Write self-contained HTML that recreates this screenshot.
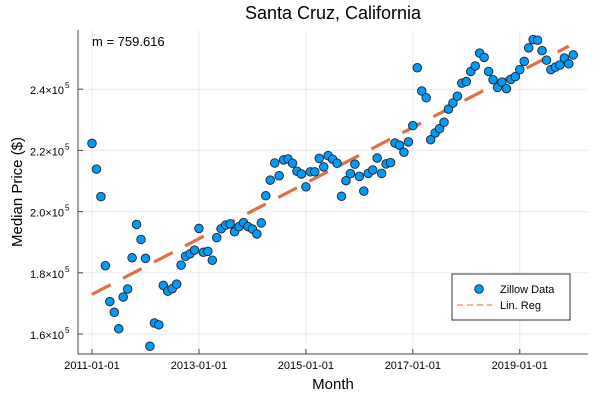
<!DOCTYPE html>
<html><head><meta charset="utf-8"><style>
body{margin:0;background:#fff;}
svg{display:block;font-family:"Liberation Sans",sans-serif;}
</style></head><body>
<svg id="chart" width="600" height="400" viewBox="0 0 600 400">
<rect width="600" height="400" fill="#fff"/>
<g id="grid"></g>
<g id="reg"></g>
<g id="pts"></g>
<line x1="78" y1="30" x2="78" y2="354" stroke="#444" stroke-width="1"/>
<line x1="78" y1="354" x2="588" y2="354" stroke="#444" stroke-width="1"/>
<g id="ticks"></g>
<text x="333" y="19" font-size="18" text-anchor="middle">Santa Cruz, California</text>
<text x="333" y="389" font-size="15" text-anchor="middle">Month</text>
<text transform="translate(22,192) rotate(-90)" font-size="15" text-anchor="middle">Median Price ($)</text>
<text x="92" y="46" font-size="13">m = 759.616</text>
<g>
<rect x="452" y="274" width="118" height="46" fill="#fff" stroke="#333" stroke-width="1"/>
<circle cx="479" cy="289" r="4.3" fill="#009af9" stroke="#222" stroke-width="0.9"/>
<text x="500" y="293" font-size="11">Zillow Data</text>
<line x1="457" y1="305" x2="492" y2="305" stroke="#e26f46" stroke-width="1" stroke-dasharray="6,4"/>
<text x="500" y="309" font-size="11">Lin. Reg</text>
</g>
</svg>
<script>
const values = [222.3,213.9,204.9,182.3,170.6,167.1,161.7,172.1,174.7,184.9,195.8,190.9,184.7,156,163.6,163,175.9,174,174.8,176.3,182.5,185.4,186.2,187.4,194.5,186.7,187,184.1,191.5,194.4,195.6,196,193.4,195.1,196.4,195.1,194.3,192.7,196.3,205.2,210.3,215.9,211.7,216.9,217.2,215.8,213.2,212.3,208.1,213,213,217.4,214.6,218.3,217.1,215.8,205,210.1,212.4,215.5,211.5,206.7,212.5,213.6,217.5,212.5,215.6,216,222.4,221.7,219.4,222.8,228.1,247,239.4,237.2,223.5,225.7,227.1,229.2,233.5,235.5,237.7,242,242.5,245.8,247.6,251.8,250.4,245.8,243.1,240.6,242.3,240.2,243.2,244.1,246.4,249.1,253.5,256.2,256,252.6,249.5,246.4,247.2,247.9,250.2,248.3,251.2];
const xTickMonths = [0,24,48,72,96];
const xTickLabels = ["2011-01-01","2013-01-01","2015-01-01","2017-01-01","2019-01-01"];
const yTickValues = [160,180,200,220,240];
const yTickLabels = ["1.6","1.8","2.0","2.2","2.4"];

const NS="http://www.w3.org/2000/svg";
const X = m => 92 + m*4.456;
const Y = v => 334 - (v-160)*3.06;
function mk(tag, attrs, parent){const e=document.createElementNS(NS,tag);for(const k in attrs)e.setAttribute(k,attrs[k]);parent.appendChild(e);return e;}
const grid=document.getElementById('grid'), ticks=document.getElementById('ticks');
xTickMonths.forEach((m,i)=>{
  const g=mk('line',{x1:X(m),x2:X(m),y1:30,y2:354,stroke:'#000','stroke-opacity':0.08,'stroke-width':1},grid);
  
  
  const t=mk('line',{x1:X(m),x2:X(m),y1:354,y2:349,stroke:'#444'},ticks);
  
  
  const l=mk('text',{x:X(m),y:369,'font-size':11,'text-anchor':'middle'},ticks);
  l.textContent=xTickLabels[i];
  
  
});
yTickValues.forEach((v,i)=>{
  const g=mk('line',{x1:78,x2:588,y1:Y(v),y2:Y(v),stroke:'#000','stroke-opacity':0.08,'stroke-width':1},grid);
  
  
  const t=mk('line',{x1:78,x2:83,y1:Y(v),y2:Y(v),stroke:'#444'},ticks);
  
  
  const l=mk('text',{x:64,y:Y(v)+5,'font-size':11,'text-anchor':'end'},ticks);
  l.textContent=yTickLabels[i]+"×10";
  
  
  const s=mk('text',{x:65,y:Y(v)-1,'font-size':8},ticks);
  s.textContent="5";
  
  
});
// linear regression
const n=values.length;let sx=0,sy=0,sxx=0,sxy=0;
values.forEach((v,i)=>{sx+=i;sy+=v;sxx+=i*i;sxy+=i*v;});
const slope=(n*sxy-sx*sy)/(n*sxx-sx*sx), icpt=(sy-slope*sx)/n;
const reg=document.getElementById('reg');
const rl=mk('line',{x1:X(0),y1:Y(icpt),x2:X(n-2),y2:Y(icpt+slope*(n-2)),stroke:'#e26f46','stroke-width':3.2,'stroke-dasharray':'21,14'},reg);


const pts=document.getElementById('pts');
values.forEach((v,i)=>{
  const c=mk('circle',{cx:X(i),cy:Y(v),r:4.3,fill:'#009af9',stroke:'#222','stroke-width':0.9},pts);
  
  
});
</script>
</body></html>
